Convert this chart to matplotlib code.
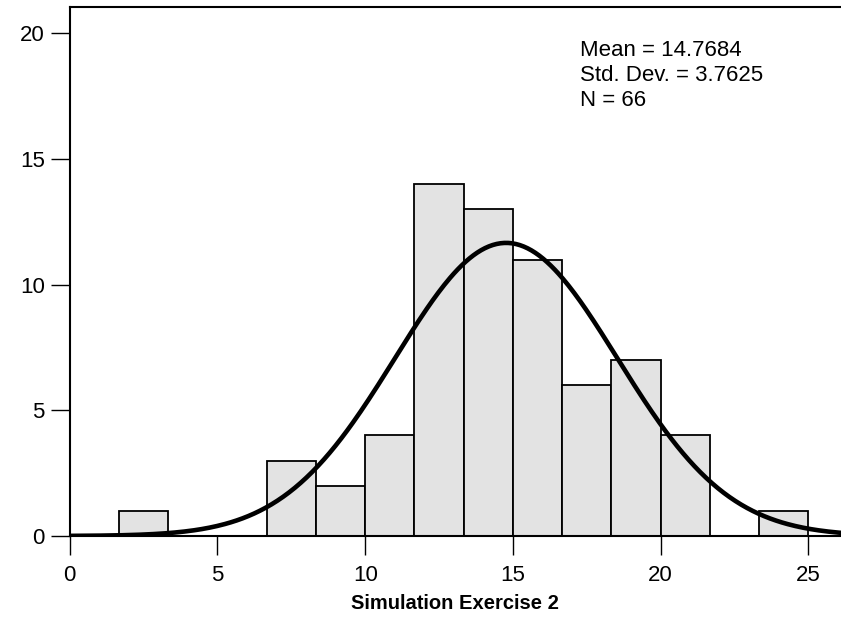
import matplotlib
matplotlib.use('Agg')
import matplotlib.pyplot as plt
import numpy as np

plt.rcParams['font.family'] = ['Liberation Sans', 'DejaVu Sans']

# histogram data (bin width 5/3)
bin_edges = np.arange(0, 25 + 0.001, 5 / 3)
counts = [0, 1, 0, 0, 3, 2, 4, 14, 13, 11, 6, 7, 4, 0, 1]

mean = 14.7684
std_dev = 3.7625
n_obs = 66

fig = plt.figure(figsize=(8.41, 6.21), dpi=100)
ax = fig.add_axes([0.0829, 0.1369, 0.9171, 0.8518])

width = bin_edges[1] - bin_edges[0]
ax.bar(bin_edges[:-1], counts, width=width, align='edge',
       color='#e3e3e3', edgecolor='black', linewidth=1.3, zorder=2)

# fitted normal curve, scaled to counts
xs = np.linspace(0, 26.2, 400)
ys = n_obs * width * np.exp(-0.5 * ((xs - mean) / std_dev) ** 2) / (std_dev * np.sqrt(2 * np.pi))
ax.plot(xs, ys, color='black', linewidth=3.3, zorder=3, solid_capstyle='round')

ax.set_xlim(0, 26.1)
ax.set_ylim(0, 21.05)
ax.set_xticks([0, 5, 10, 15, 20, 25])
ax.set_yticks([0, 5, 10, 15, 20])

for side in ['left', 'bottom', 'top']:
    ax.spines[side].set_linewidth(1.5)
ax.spines['right'].set_visible(False)

ax.tick_params(axis='both', direction='out', length=14, width=1, labelsize=16)
ax.tick_params(axis='x', pad=7)
ax.tick_params(axis='y', pad=4)

ax.set_xlabel('Simulation Exercise 2', fontsize=14.5, fontweight='bold', labelpad=6)

stats = f'Mean = {mean:.4f}\nStd. Dev. = {std_dev:.4f}\nN = {n_obs}'
ax.text(0.661, 0.938, stats, transform=ax.transAxes, fontsize=16,
        va='top', ha='left', linespacing=1.27)

fig.savefig('out.png', dpi=100)
